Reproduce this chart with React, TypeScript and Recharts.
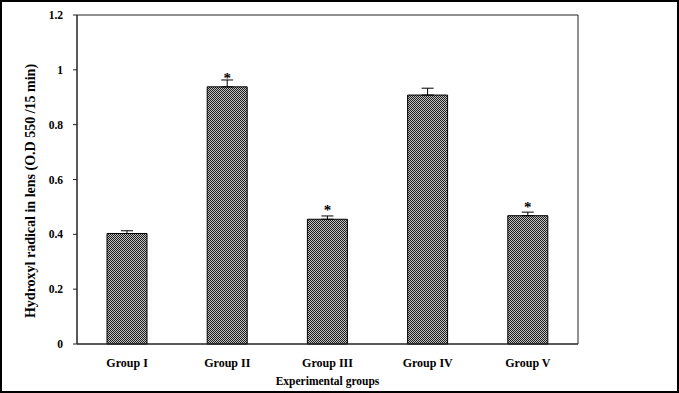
import {
    BarChart,
    Bar,
    XAxis,
    YAxis,
    ErrorBar,
    LabelList,
    Label,
    ReferenceArea,
} from "recharts";

// data
const groups = ["Group I", "Group II", "Group III", "Group IV", "Group V"];
const means = [0.403, 0.938, 0.455, 0.908, 0.468];
const errs = [0.01, 0.025, 0.012, 0.025, 0.013];
const marks = ["", "*", "*", "", "*"];
const yTicks = [0, 0.2, 0.4, 0.6, 0.8, 1, 1.2];

const rows = groups.map((g, i) => ({
    group: g,
    value: means[i],
    err: [0, errs[i]],
    sig: marks[i],
}));

const serif = "'Liberation Serif', 'Times New Roman', serif";

export default function App() {
    return (
        <div style={{ position: "relative", width: 679, height: 393, background: "#fff" }}>
            <style>{`body{margin:0}`}</style>
            <BarChart
                width={679}
                height={393}
                data={rows}
                margin={{ top: 15, right: 101, left: 0, bottom: 7 }}
                barCategoryGap={0}
            >
                <defs>
                    <pattern id="checker" width="2" height="2" patternUnits="userSpaceOnUse">
                        <rect width="2" height="2" fill="#c4c4c4" shapeRendering="crispEdges" />
                        <rect x="0" y="0" width="1" height="1" fill="#1a1a1a" shapeRendering="crispEdges" />
                        <rect x="1" y="1" width="1" height="1" fill="#1a1a1a" shapeRendering="crispEdges" />
                    </pattern>
                </defs>
                <ReferenceArea y1={0} y2={1.2} fill="none" stroke="#222" strokeWidth={1} />
                <XAxis
                    dataKey="group"
                    height={42}
                    axisLine={{ stroke: "#222" }}
                    tickLine={false}
                    tickSize={6}
                    tickMargin={8}
                    tick={{ fontSize: 12, fontWeight: "bold", fill: "#000", fontFamily: serif }}
                >
                    <Label
                        value="Experimental groups"
                        position="insideBottom"
                        offset={1}
                        style={{ fontSize: 11.5, fontWeight: "bold", fill: "#000", fontFamily: serif }}
                    />
                </XAxis>
                <YAxis
                    width={77}
                    domain={[0, 1.2]}
                    ticks={yTicks}
                    axisLine={{ stroke: "#222" }}
                    tickLine={{ stroke: "#222" }}
                    tickSize={4}
                    tickMargin={10}
                    tick={{ fontSize: 11.5, fontWeight: "bold", fill: "#000", fontFamily: serif }}
                >
                    <Label
                        content={() => (
                            <text
                                x={30}
                                y={191}
                                transform="rotate(-90 30 191)"
                                textAnchor="middle"
                                dominantBaseline="central"
                                style={{ fontSize: 14, fontWeight: "bold", fill: "#000", fontFamily: serif }}
                            >
                                Hydroxyl radical in lens (O.D 550 /15 min)
                            </text>
                        )}
                    />
                </YAxis>
                <Bar
                    dataKey="value"
                    barSize={40}
                    fill="url(#checker)"
                    stroke="#000"
                    strokeWidth={1}
                    isAnimationActive={false}
                >
                    <ErrorBar dataKey="err" width={6} stroke="#000" strokeWidth={1} direction="y" />
                    <LabelList
                        dataKey="sig"
                        position="top"
                        offset={4}
                        style={{ fontSize: 15, fontWeight: "bold", fill: "#000", fontFamily: serif }}
                    />
                </Bar>
            </BarChart>
            <div
                style={{
                    position: "absolute",
                    left: 0,
                    top: 0,
                    width: 679,
                    height: 393,
                    boxSizing: "border-box",
                    border: "2px solid #000",
                    pointerEvents: "none",
                }}
            />
        </div>
    );
}
